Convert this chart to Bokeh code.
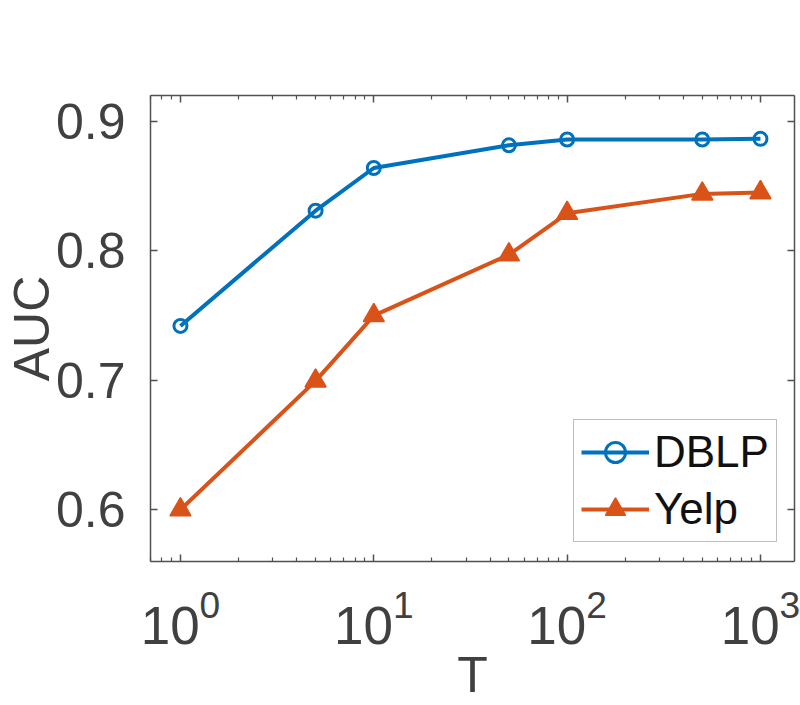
from bokeh.plotting import figure
from bokeh.models import LogAxis, LinearAxis, FixedTicker, Legend, LegendItem, Range1d
from bokeh.embed import file_html
from bokeh.resources import INLINE

# ---- data ----
T = [1, 5, 10, 50, 100, 500, 1000]
dblp = [0.742, 0.831, 0.864, 0.8815, 0.886, 0.886, 0.8865]
yelp = [0.600, 0.6995, 0.750, 0.797, 0.829, 0.844, 0.845]
x_major = [1, 10, 100, 1000]
x_minor = [m * d for d in [0.1, 1, 10, 100, 1000] for m in range(2, 10)]
y_major = [0.6, 0.7, 0.8, 0.9]
series_names = ["DBLP", "Yelp"]
x_title = "T"
y_title = "AUC"

BLUE = "#0072BD"
ORANGE = "#D95319"
AX = "#505050"
TXT = "#404040"
FONT = "Liberation Sans"

W, H = 800, 705
FL, FR, FT, FB = 150, 794, 95, 562   # frame edges

p = figure(width=W, height=H, x_axis_type="log",
           x_range=Range1d(0.7, 1500), y_range=Range1d(0.56, 0.92),
           output_backend="svg", toolbar_location=None,
           min_border_left=FL, min_border_top=FT, min_border_bottom=H - FB,
           min_border_right=W - FR)
p.grid.visible = False
p.outline_line_color = None

xt = FixedTicker(ticks=x_major, minor_ticks=x_minor)
yt = FixedTicker(ticks=y_major, minor_ticks=[])

def style(ax, labels=True):
    ax.axis_line_color = AX
    ax.axis_line_width = 1.5
    ax.major_tick_line_color = AX
    ax.minor_tick_line_color = AX
    ax.major_tick_line_width = 1.5
    ax.minor_tick_line_width = 1.2
    ax.major_tick_in = 7
    ax.major_tick_out = 0
    ax.minor_tick_in = 4
    ax.minor_tick_out = 0
    ax.major_label_text_font = FONT
    ax.major_label_text_color = TXT
    ax.axis_label_text_font = FONT
    ax.axis_label_text_color = TXT
    ax.axis_label_text_font_style = "normal"
    ax.axis_label_text_font_size = "50px"
    if labels:
        ax.major_label_text_font_size = "50px"
    else:
        ax.major_label_text_font_size = "0px"
        ax.major_label_text_color = None
        ax.major_label_standoff = 0

xa = p.xaxis[0]
xa.ticker = xt
style(xa)
xa.major_label_text_font_size = "53px"
xa.major_label_standoff = 28
xa.axis_label = x_title
xa.axis_label_standoff = 0

ya = p.yaxis[0]
ya.ticker = yt
style(ya)
ya.major_label_standoff = 25
ya.axis_label = y_title
ya.axis_label_standoff = -7

top = LogAxis(ticker=xt)
style(top, labels=False)
p.add_layout(top, "above")
right = LinearAxis(ticker=yt)
style(right, labels=False)
right.minor_tick_in = 0
p.add_layout(right, "right")

l1 = p.line(T, dblp, line_color=BLUE, line_width=4)
m1 = p.scatter(T, dblp, marker="circle", size=13, line_color=BLUE,
               line_width=3, fill_color=None)
l2 = p.line(T, yelp, line_color=ORANGE, line_width=4)
m2 = p.scatter(T, yelp, marker="triangle", size=21, line_color=ORANGE,
               line_width=1.5, fill_color=ORANGE)

legend = Legend(items=[LegendItem(label=series_names[0], renderers=[l1, m1]),
                       LegendItem(label=series_names[1], renderers=[l2, m2])],
                location=(573 - FL, FB - 543))
legend.label_text_font = FONT
legend.label_text_font_size = "44px"
legend.label_text_color = "#111111"
legend.glyph_width = 68
legend.glyph_height = 50
legend.label_height = 50
legend.label_standoff = 5
legend.padding = 7
legend.spacing = 7
legend.margin = 0
legend.border_line_color = "#7f7f7f"
legend.border_line_width = 1.5
legend.background_fill_alpha = 1
p.add_layout(legend, "center")

open("out.html", "w").write(file_html(p, INLINE))
